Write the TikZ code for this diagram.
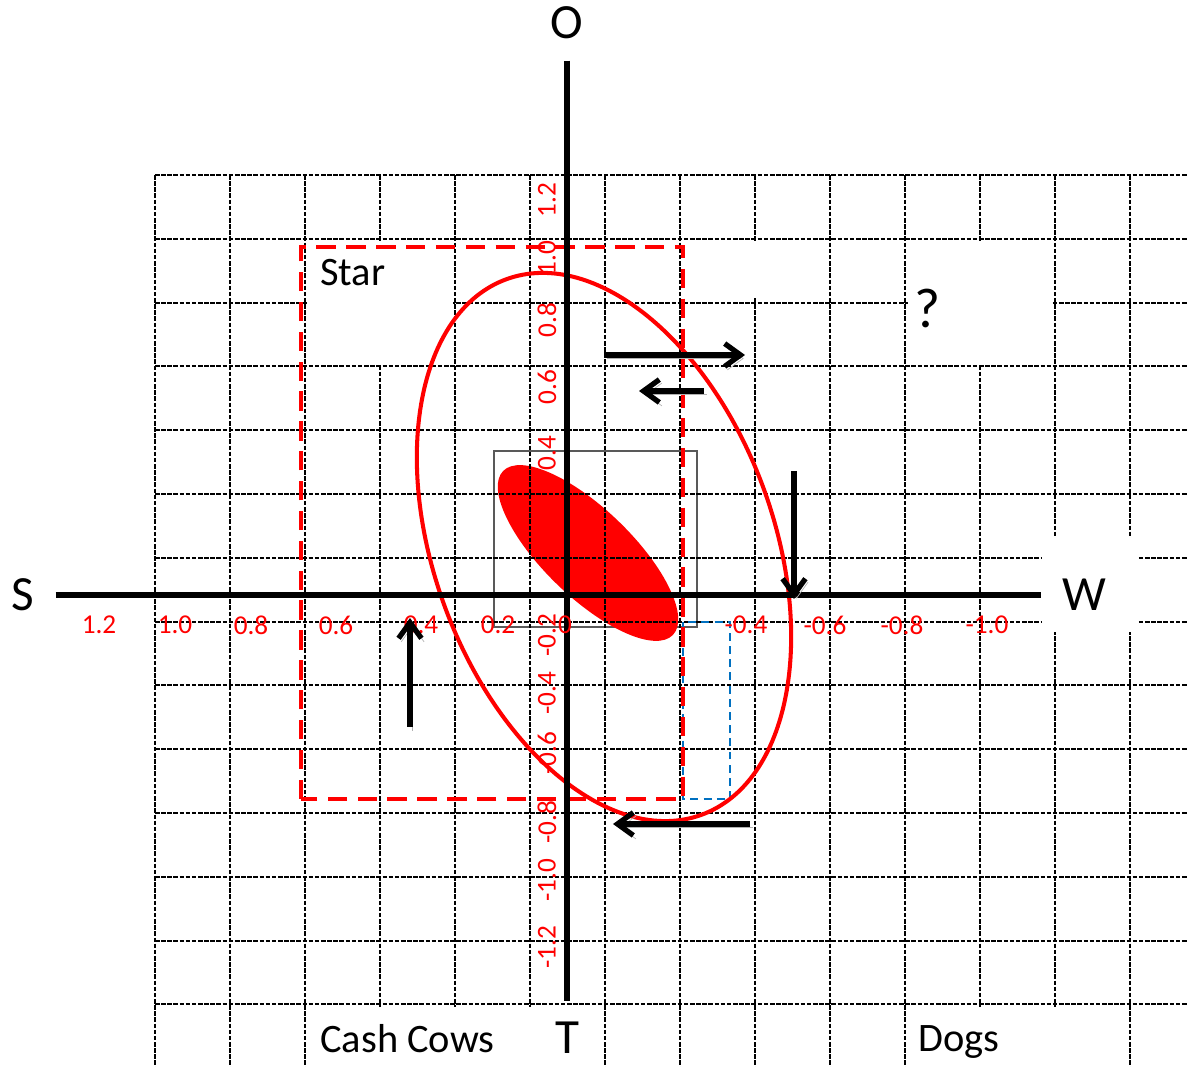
\documentclass[tikz,border=0pt]{standalone}
\usepackage{fontspec}
\setmainfont{Carlito}
\usetikzlibrary{arrows.meta}
\definecolor{boxblue}{HTML}{0070C0}

\begin{document}
\begin{tikzpicture}[x=0.02cm, y=0.02cm,
	every node/.style={font=\fontsize{23}{26}\selectfont},
	axislabel/.style={font=\fontsize{28}{32}\selectfont, inner sep=12pt},
	tick/.style={red, font=\fontsize{15.5}{17}\selectfont, inner sep=0pt},
	gridline/.style={line width=1.1pt, dash pattern=on 2.6pt off 0.9pt},
	axis/.style={line width=3.4pt},
	move/.style={line width=3pt, -{Straight Barb[length=9pt, width=13pt]},
		preaction={draw=black!30, transform canvas={shift={(1.5pt,-2pt)}}}}]
	\useasboundingbox (-567,-472) rectangle (620,595);
	% core area and its fill
	\draw[gray!70!black, line width=0.6pt] (-73,-32) rectangle (130,144);
	\fill[red] (21,42) ellipse [x radius=118, y radius=44, rotate=-44];
	% grid
	\foreach \i in {0,...,13}
		\draw[gridline] (-412+75*\i,420) -- (-412+75*\i,-472);
	\foreach \j in {0,...,13}
		\draw[gridline] (-412,420-63.8*\j) -- (620,420-63.8*\j);
	% blank text boxes over the grid
	\fill[white] (-259,231) rectangle (-114,354);
	\fill[white] (185,297) rectangle (262,354);
	\fill[white] (341,231) rectangle (485,354);
	\fill[white] (475,-37) rectangle (571,57);
	\fill[white] (-259,-472) rectangle (33,-412);
	\fill[white] (341,-472) rectangle (560,-412);
	% zones
	\draw[boxblue, line width=1.1pt, dash pattern=on 4.5pt off 3pt] (116,-27) rectangle (163,-204);
	\draw[red, line width=2pt, dash pattern=on 11pt off 6pt] (-266,-204) rectangle (116,348);
	\draw[red, line width=2.3pt] (37,48) ellipse [x radius=285, y radius=170, rotate=110];
	% axes
	\node[axislabel] (S) at (-544,0) {S};
	\node[axislabel] (W) at (517,0) {W};
	\node[axislabel] (O) at (0,572) {O};
	\node[axislabel] (T) at (0,-443) {T};
	\draw[axis] (S) -- (W);
	\draw[axis] (O) -- (T);
	% scale values
	\foreach \x/\t [count=\k] in {-468/1.2, -392/1.0, -316/0.8, -231/0.6, -146/0.4, -69/0.2, -2/0, 179/-0.4, 258/-0.6, 335/-0.8, 420/-1.0}
		\node[tick] (hx\k) at (\x,-30) {\t};
	\foreach \y/\t [count=\k] in {395/1.2, 337/1.0, 275/0.8, 208/0.6, 142/0.4, -40/-0.2, -98/-0.4, -158/-0.6, -227/-0.8, -285/-1.0, -352/-1.2}
		\node[tick, rotate=90] (vy\k) at (-20,\y) {\t};
	% quadrant names
	\node[anchor=base west, inner sep=0pt] (star) at (-247,309) {Star};
	\node[anchor=base, font=\fontsize{32}{36}\selectfont] (unknown) at (361,267) {?};
	\node[anchor=base west, inner sep=0pt] (cows) at (-247,-458) {Cash Cows};
	\node[anchor=base west, inner sep=0pt] (dogs) at (351,-457) {Dogs};
	% moves
	\coordinate (from1) at (37,240);   \coordinate (to1) at (178,240);
	\coordinate (from2) at (137,204);  \coordinate (to2) at (72,204);
	\coordinate (from3) at (227,124);  \coordinate (to3) at (227,-4);
	\coordinate (from4) at (-157,-132); \coordinate (to4) at (-157,-23);
	\coordinate (from5) at (183,-229); \coordinate (to5) at (46,-229);
	\foreach \k in {1,...,5}
		\draw[move] (from\k) -- (to\k);
\end{tikzpicture}
\end{document}
